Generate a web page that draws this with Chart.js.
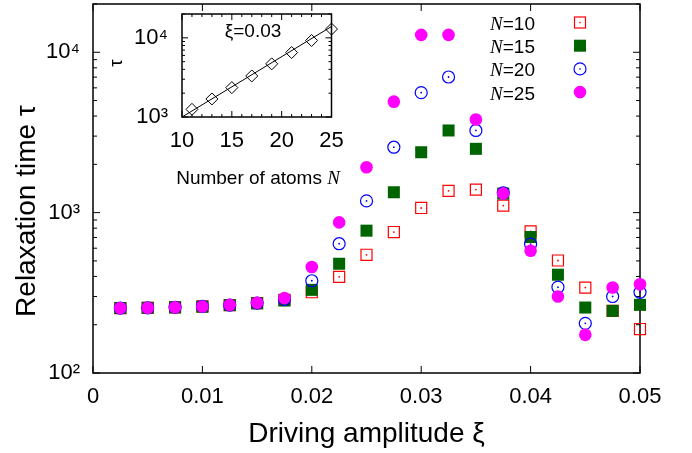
<!DOCTYPE html>
<html>
<head>
<meta charset="utf-8">
<script src="https://cdn.jsdelivr.net/npm/chart.js@4.4.1/dist/chart.umd.min.js"></script>
<style>
  html, body { margin: 0; padding: 0; background: #fff; }
  #wrap { position: relative; width: 692px; height: 453px; }
  #main { position: absolute; left: 0; top: 0; }
  #inset { position: absolute; left: 100px; top: 6px; }
</style>
</head>
<body>
<div id="wrap">
  <canvas id="main" width="692" height="453"></canvas>
  <canvas id="inset" width="245" height="190"></canvas>
</div>
<script>
// Driving amplitude xi (x values of main plot)
const amplitude = [0.0025, 0.005, 0.0075, 0.01, 0.0125, 0.015, 0.0175, 0.02, 0.0225, 0.025,
                   0.0275, 0.03, 0.0325, 0.035, 0.0375, 0.04, 0.0425, 0.045, 0.0475, 0.05];

// Relaxation time tau for each number of atoms N
const tauN10 = [254, 255, 257, 260, 265, 273, 286, 319, 398, 546, 757, 1069, 1367, 1392, 1106, 764, 503, 341, 244, 188];
const tauN15 = [254, 255, 257, 259, 265, 272, 283, 330, 480, 772, 1340, 2380, 3254, 2500, 1315, 705, 410, 256, 244, 266];
const tauN20 = [254, 255, 257, 260, 265, 273, 288, 376, 640, 1183, 2558, 5600, 7010, 3254, 1330, 637, 343, 204, 300, 319];
const tauN25 = [254, 255, 257, 260, 266, 274, 293, 458, 869, 1919, 4920, 12830, 12830, 3810, 1315, 579, 300, 173, 341, 358];
const atomCounts = [10, 15, 20, 25];

// Inset: tau vs N at xi = 0.03, plus the exponential fit line
const insetN = [11, 13, 15, 17, 19, 21, 23, 25];
const insetTau = [1250, 1690, 2350, 3300, 4690, 6520, 9250, 12900];
const fitN = [10, 25];
const fitTau = [1000, 13900];

// Tick values
const xTickValues = [0, 0.01, 0.02, 0.03, 0.04, 0.05];
const yTickValues = [100, 1000, 10000];
const yMinorValues = [200, 300, 400, 500, 600, 700, 800, 900, 2000, 3000, 4000, 5000, 6000, 7000, 8000, 9000, 20000];
const insetXTicks = [10, 15, 20, 25];
const insetXMinor = [11, 12, 13, 14, 16, 17, 18, 19, 21, 22, 23, 24];
const insetYTicks = [1000, 10000];
const insetYMinor = [2000, 3000, 4000, 5000, 6000, 7000, 8000, 9000, 20000];

const FONT = "'Liberation Sans', Arial, Helvetica, sans-serif";
const SERIF_IT = "italic 19px 'Liberation Serif', 'Times New Roman', serif";
const RED = '#ff0000', GREEN = '#006400', BLUE = '#0000ff', MAGENTA = '#ff00ff';
const SUP = { 2: '\u00b2', 3: '\u00b3', 4: '\u2074' };

function points(xs, ys) {
    return xs.map((x, i) => ({ x: x, y: ys[i] }));
}

function powLabel(v) {
    return '10' + SUP[Math.round(Math.log10(v))];
}

// keep the plot box exactly where we want it
function fixWidth(w) {
    return s => { s.width = w; s.paddingTop = 0; s.paddingBottom = 0; };
}
function fixHeight(h) {
    return s => { s.height = h; s.paddingLeft = 0; s.paddingRight = 0; };
}

// inward ticks on all four sides plus the frame
function drawFrame(chart, xs, xsMinor, ys, ysMinor, major, minor) {
    const { ctx, chartArea: a, scales: { x, y } } = chart;
    ctx.save();
    ctx.strokeStyle = '#000';
    ctx.lineWidth = 1;
    ctx.beginPath();
    function xt(v, len) {
        const px = x.getPixelForValue(v);
        ctx.moveTo(px, a.bottom); ctx.lineTo(px, a.bottom - len);
        ctx.moveTo(px, a.top); ctx.lineTo(px, a.top + len);
    }
    function yt(v, len) {
        const py = y.getPixelForValue(v);
        ctx.moveTo(a.left, py); ctx.lineTo(a.left + len, py);
        ctx.moveTo(a.right, py); ctx.lineTo(a.right - len, py);
    }
    xs.forEach(v => xt(v, major));
    xsMinor.forEach(v => xt(v, minor));
    ys.forEach(v => yt(v, major));
    ysMinor.forEach(v => yt(v, minor));
    ctx.stroke();
    ctx.lineWidth = 1.5;
    ctx.strokeRect(a.left, a.top, a.right - a.left, a.bottom - a.top);
    ctx.restore();
}

// "N=10" style label, right aligned, italic serif N
function drawNLabel(ctx, rest, right, baseline) {
    ctx.font = '19px ' + FONT;
    const wRest = ctx.measureText(rest).width;
    ctx.textAlign = 'left';
    ctx.textBaseline = 'alphabetic';
    ctx.fillText(rest, right - wRest, baseline);
    ctx.font = SERIF_IT;
    const wN = ctx.measureText('N').width;
    ctx.fillText('N', right - wRest - wN, baseline);
}

function drawSymbol(ctx, i, x, y) {
    ctx.save();
    if (i === 0) {
        ctx.strokeStyle = RED; ctx.lineWidth = 1.2;
        ctx.strokeRect(x - 5.5, y - 5.5, 11, 11);
        ctx.fillStyle = RED; ctx.fillRect(x - 0.7, y - 0.7, 1.4, 1.4);
    } else if (i === 1) {
        ctx.fillStyle = GREEN; ctx.fillRect(x - 6, y - 6, 12, 12);
    } else if (i === 2) {
        ctx.strokeStyle = BLUE; ctx.lineWidth = 1.2;
        ctx.beginPath(); ctx.arc(x, y, 6, 0, Math.PI * 2); ctx.stroke();
        ctx.fillStyle = BLUE; ctx.fillRect(x - 0.7, y - 0.7, 1.4, 1.4);
    } else {
        ctx.fillStyle = MAGENTA;
        ctx.beginPath(); ctx.arc(x, y, 6.3, 0, Math.PI * 2); ctx.fill();
    }
    ctx.restore();
}

const mainDecor = {
    id: 'mainDecor',
    beforeDatasetsDraw(chart) {
        drawFrame(chart, xTickValues, [], yTickValues, yMinorValues, 7, 4);
    },
    afterDraw(chart) {
        const ctx = chart.ctx;
        ctx.save();
        ctx.fillStyle = '#000';
        // axis titles
        ctx.font = '28px ' + FONT;
        ctx.textAlign = 'center';
        ctx.textBaseline = 'alphabetic';
        ctx.fillText('Driving amplitude \u03be', 366.5, 441.5);
        ctx.translate(35, 211);
        ctx.rotate(-Math.PI / 2);
        ctx.fillText('Relaxation time \u03c4', 0, 0);
        ctx.restore();
        // legend
        ctx.save();
        ctx.fillStyle = '#000';
        atomCounts.forEach((n, i) => {
            const baseline = 30 + i * 23.2;
            drawNLabel(ctx, '=' + n, 535, baseline);
            drawSymbol(ctx, i, 580, baseline - 7.5);
        });
        ctx.restore();
    }
};

const marker = { showLine: false, clip: false, pointHoverRadius: 0 };

new Chart(document.getElementById('main'), {
    type: 'scatter',
    data: {
        datasets: [
            Object.assign({ label: 'N=25', data: points(amplitude, tauN25), pointStyle: 'circle', pointRadius: 6.3,
                pointBackgroundColor: MAGENTA, pointBorderWidth: 0, order: 1 }, marker),
            Object.assign({ label: 'N=20 dot', data: points(amplitude, tauN20), pointStyle: 'circle', pointRadius: 0.9,
                pointBackgroundColor: BLUE, pointBorderWidth: 0, order: 2 }, marker),
            Object.assign({ label: 'N=20', data: points(amplitude, tauN20), pointStyle: 'circle', pointRadius: 6,
                pointBackgroundColor: 'rgba(0,0,0,0)', pointBorderColor: BLUE, pointBorderWidth: 1.2, order: 3 }, marker),
            Object.assign({ label: 'N=15', data: points(amplitude, tauN15), pointStyle: 'rect', pointRadius: 8.5,
                pointBackgroundColor: GREEN, pointBorderWidth: 0, order: 4 }, marker),
            Object.assign({ label: 'N=10 dot', data: points(amplitude, tauN10), pointStyle: 'circle', pointRadius: 0.9,
                pointBackgroundColor: RED, pointBorderWidth: 0, order: 5 }, marker),
            Object.assign({ label: 'N=10', data: points(amplitude, tauN10), pointStyle: 'rect', pointRadius: 7.8,
                pointBackgroundColor: 'rgba(0,0,0,0)', pointBorderColor: RED, pointBorderWidth: 1.2, order: 6 }, marker)
        ]
    },
    options: {
        responsive: false,
        animation: false,
        devicePixelRatio: 1,
        events: [],
        layout: { autoPadding: false, padding: { left: 0, right: 52, top: 4, bottom: 0 } },
        plugins: { legend: { display: false }, tooltip: { enabled: false } },
        scales: {
            x: {
                type: 'linear', min: 0, max: 0.05,
                grid: { display: false, drawTicks: false },
                border: { display: false },
                afterBuildTicks: s => { s.ticks = xTickValues.map(v => ({ value: v })); },
                afterFit: fixHeight(80),
                ticks: {
                    padding: 11, color: '#000', autoSkip: false, maxRotation: 0,
                    font: { family: FONT, size: 22 },
                    callback: v => v === 0 ? '0' : v.toFixed(2)
                }
            },
            y: {
                type: 'logarithmic', min: 100, max: 20000,
                grid: { display: false, drawTicks: false },
                border: { display: false },
                afterBuildTicks: s => { s.ticks = yTickValues.map(v => ({ value: v })); },
                afterFit: fixWidth(93),
                ticks: {
                    padding: 13, color: '#000', autoSkip: false,
                    font: { family: FONT, size: 22 },
                    callback: v => powLabel(v)
                }
            }
        }
    },
    plugins: [mainDecor]
});

const insetDecor = {
    id: 'insetDecor',
    beforeDraw(chart) {
        const { ctx, chartArea: a } = chart;
        ctx.save();
        ctx.fillStyle = '#fff';
        ctx.fillRect(a.left, a.top, a.right - a.left, a.bottom - a.top);
        ctx.restore();
    },
    beforeDatasetsDraw(chart) {
        drawFrame(chart, insetXTicks, insetXMinor, insetYTicks, insetYMinor, 6, 3);
    },
    afterDraw(chart) {
        const ctx = chart.ctx;
        ctx.save();
        ctx.fillStyle = '#000';
        ctx.font = '19px ' + FONT;
        ctx.textAlign = 'center';
        ctx.textBaseline = 'alphabetic';
        ctx.fillText('\u03be=0.03', 153, 30.7);
        // x title: "Number of atoms N"
        const txt = 'Number of atoms ';
        const wTxt = ctx.measureText(txt).width;
        ctx.font = SERIF_IT;
        const wN = ctx.measureText('N').width;
        const left = 158 - (wTxt + wN) / 2;
        ctx.textAlign = 'left';
        ctx.fillText('N', left + wTxt, 178.3);
        ctx.font = '19px ' + FONT;
        ctx.fillText(txt, left, 178.3);
        // y title
        ctx.translate(17, 57);
        ctx.rotate(-Math.PI / 2);
        ctx.textAlign = 'center';
        ctx.textBaseline = 'middle';
        ctx.fillText('\u03c4', 0, 0);
        ctx.restore();
    }
};

new Chart(document.getElementById('inset'), {
    type: 'scatter',
    data: {
        datasets: [
            { label: 'xi=0.03', data: points(insetN, insetTau), showLine: false, clip: false,
              pointStyle: 'rectRot', pointRadius: 6, pointBackgroundColor: 'rgba(0,0,0,0)',
              pointBorderColor: '#000', pointBorderWidth: 1, order: 1 },
            { label: 'fit', data: points(fitN, fitTau), showLine: true, clip: false,
              borderColor: '#000', borderWidth: 1, pointRadius: 0, order: 2 }
        ]
    },
    options: {
        responsive: false,
        animation: false,
        devicePixelRatio: 1,
        events: [],
        layout: { autoPadding: false, padding: { left: 0, right: 13.5, top: 8, bottom: 0 } },
        plugins: { legend: { display: false }, tooltip: { enabled: false } },
        scales: {
            x: {
                type: 'linear', min: 10, max: 25,
                grid: { display: false, drawTicks: false },
                border: { display: false },
                afterBuildTicks: s => { s.ticks = insetXTicks.map(v => ({ value: v })); },
                afterFit: fixHeight(79),
                ticks: { padding: 11, color: '#000', autoSkip: false, maxRotation: 0,
                         font: { family: FONT, size: 22 } }
            },
            y: {
                type: 'logarithmic', min: 1000, max: 20000,
                grid: { display: false, drawTicks: false },
                border: { display: false },
                afterBuildTicks: s => { s.ticks = insetYTicks.map(v => ({ value: v })); },
                afterFit: fixWidth(82),
                ticks: { padding: 14, color: '#000', autoSkip: false,
                         font: { family: FONT, size: 22 },
                         callback: v => powLabel(v) }
            }
        }
    },
    plugins: [insetDecor]
});
</script>
</body>
</html>
